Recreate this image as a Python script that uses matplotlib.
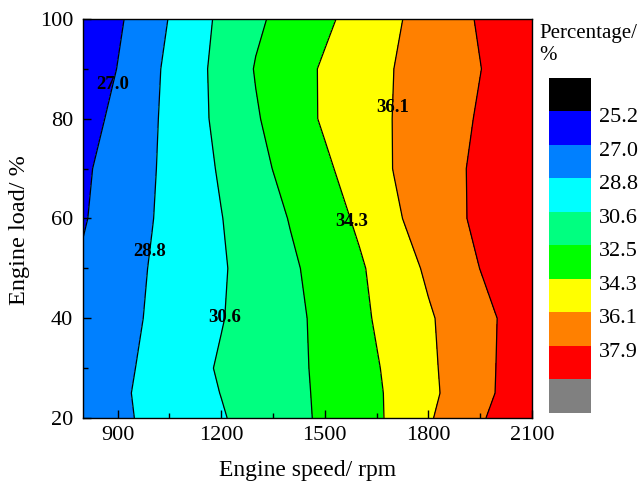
import numpy as np
import matplotlib
matplotlib.use('Agg')
import matplotlib.pyplot as plt
import matplotlib.transforms as mtransforms

plt.rcParams['font.family'] = ['Liberation Serif', 'DejaVu Serif']
plt.rcParams['mathtext.fontset'] = 'stix'

speed = [800, 900, 1000, 1100, 1200, 1300, 1400, 1500, 1600, 1700, 1800, 1900, 2000, 2100]
load = [20, 25, 30, 40, 50, 60, 70, 80, 90, 100]

percentage = [
    [27.59, 28.44, 29.18, 29.82, 30.47, 31.22, 31.99, 32.79, 33.63, 34.57, 35.92, 37.12, 38.29, 39.45],
    [27.65, 28.50, 29.25, 29.94, 30.63, 31.34, 32.05, 32.81, 33.66, 34.58, 35.72, 36.85, 37.98, 39.10],
    [27.51, 28.37, 29.20, 30.01, 30.77, 31.43, 32.10, 32.84, 33.71, 34.68, 35.79, 36.88, 37.95, 39.03],
    [27.34, 28.19, 29.01, 29.77, 30.52, 31.30, 32.07, 32.95, 33.94, 34.94, 35.91, 36.90, 37.91, 38.91],
    [27.20, 28.06, 28.91, 29.67, 30.43, 31.31, 32.23, 33.15, 34.09, 35.22, 36.36, 37.40, 38.44, 39.48],
    [26.87, 27.81, 28.76, 29.66, 30.55, 31.56, 32.58, 33.54, 34.57, 35.85, 36.85, 37.79, 38.73, 39.50],
    [26.73, 27.70, 28.67, 29.71, 30.78, 31.99, 33.06, 34.02, 35.07, 36.14, 36.98, 37.82, 38.65, 39.49],
    [26.27, 27.43, 28.58, 29.79, 31.04, 32.34, 33.48, 34.51, 35.33, 36.14, 36.90, 37.67, 38.44, 39.20],
    [25.61, 27.04, 28.47, 29.78, 31.13, 32.60, 33.57, 34.50, 35.30, 36.10, 36.81, 37.52, 38.23, 38.95],
    [25.40, 26.73, 28.15, 29.57, 30.94, 32.20, 33.15, 34.00, 34.92, 35.87, 36.76, 37.62, 38.49, 39.35],
]

levels = [23.4, 25.2, 27.0, 28.8, 30.6, 32.5, 34.3, 36.1, 37.9, 39.7, 41.5]
tick_levels = [25.2, 27.0, 28.8, 30.6, 32.5, 34.3, 36.1, 37.9]
colors = ['#000000', '#0000ff', '#0080ff', '#00ffff', '#00ff80',
          '#00ff00', '#ffff00', '#ff8000', '#ff0000', '#808080']
label_spots = [(872, 87), (985, 53.5), (1220, 40.2), (1576, 59.3), (1700, 82.3)]


def make_plot(save_path):
    X, Y = np.meshgrid(speed, load)
    Z = np.array(percentage)

    fig = plt.figure(figsize=(6.41, 4.82), dpi=100)
    ax = fig.add_axes([0.1295, 0.1328, 0.7005, 0.8278])
    cf = ax.contourf(X, Y, Z, levels=levels, colors=colors)
    cs = ax.contour(X, Y, Z, levels=tick_levels, colors='k', linewidths=0.9)
    labels = ax.clabel(cs, manual=label_spots, inline=False, fmt='%.1f', fontsize=13.5)
    for t in labels:
        t.set_fontweight('bold')
        t.set_rotation(0)

    ax.set_xlim(800, 2100)
    ax.set_ylim(20, 100)
    ax.set_xticks([900, 1200, 1500, 1800, 2100])
    ax.set_xticks([1050, 1350, 1650, 1950], minor=True)
    ax.set_yticks([20, 40, 60, 80, 100])
    ax.set_yticks([30, 50, 70, 90], minor=True)
    ax.tick_params(which='both', direction='in', top=False, right=False, labelsize=16)
    ax.tick_params(which='major', length=6, width=1)
    ax.tick_params(which='minor', length=3.5, width=1)
    ax.tick_params(axis='x', which='major', pad=6)
    ax.tick_params(axis='y', which='major', pad=7)
    ax.set_xlabel('Engine speed/ rpm', fontsize=17)
    ax.set_ylabel('Engine load/ %', fontsize=17.5)
    ax.xaxis.set_label_coords(0.5, -0.105)
    ax.yaxis.set_label_coords(-0.118, 0.47)
    for s in ax.spines.values():
        s.set_linewidth(1)

    cax = fig.add_axes([0.8565, 0.1432, 0.0655, 0.695])
    cb = fig.colorbar(cf, cax=cax)
    cb.outline.set_visible(False)
    cb.set_ticks(tick_levels)
    cb.set_ticklabels(['%.1f' % v for v in tick_levels])
    cax.invert_yaxis()
    cax.tick_params(length=0, labelsize=16, pad=6)
    shift = mtransforms.ScaledTranslation(0, -4 / 100, fig.dpi_scale_trans)
    for lab in cax.get_yticklabels():
        lab.set_transform(lab.get_transform() + shift)
    fig.text(539 / 641, 1 - 24 / 482, 'Percentage/\n%', ha='left', va='top',
             fontsize=15, linespacing=1.2)

    fig.savefig(save_path, dpi=100)
    plt.close('all')


if __name__ == '__main__':
    make_plot('out.png')
